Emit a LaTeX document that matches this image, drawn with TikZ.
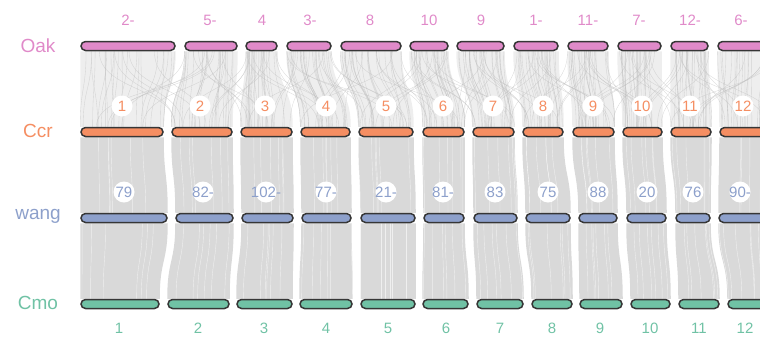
\documentclass[tikz,border=0pt]{standalone}
\usepackage{fontspec}
\setmainfont{Liberation Sans}
\usetikzlibrary{calc}
\definecolor{oakc}{HTML}{E08AC9}
\definecolor{ccrc}{HTML}{F58E62}
\definecolor{wangc}{HTML}{8DA0CB}
\definecolor{cmoc}{HTML}{70C2A5}
\definecolor{ribc}{HTML}{D9D9D9}
\definecolor{linec}{HTML}{BDBDBD}
\definecolor{edgec}{HTML}{363636}
\pgfdeclarelayer{bg}
\pgfsetlayers{bg,main}
\tikzset{
  bar/.style={draw=edgec, line width=1.5pt, rounded corners=4.5pt, minimum height=9pt, inner sep=0pt},
  rowlab/.style={font=\fontsize{19}{19}\selectfont, anchor=center},
  chrlab/.style={font=\fontsize{15}{15}\selectfont, anchor=center},
  circ/.style={circle, fill=white, minimum size=21pt, inner sep=0pt},
  ribbon/.style={fill=ribc},
  thinline/.style={draw=linec, line width=0.35pt, opacity=0.55},
}
\begin{document}
\begin{tikzpicture}[x=1pt,y=-1pt]
\useasboundingbox (0,0) rectangle (760,338);
\clip (0,0) rectangle (760,338);
% bars
\foreach \i/\a/\b in {1/81/175,2/185/237,3/246/277,4/287/331,5/341/401,6/410/448,7/457/504,8/514/558,9/568/608,10/618/661,11/671/708,12/718/775}
  \node[bar, fill=oakc, minimum width={\b-\a}] (o\i) at ({(\a+\b)/2},46) {};
\foreach \i/\a/\b in {1/81/163,2/172/232,3/241/292,4/301/350,5/359/413,6/423/464,7/473/514,8/523/563,9/573/614,10/623/662,11/671/711,12/720/775}
  \node[bar, fill=ccrc, minimum width={\b-\a}] (c\i) at ({(\a+\b)/2},132) {};
\foreach \i/\a/\b in {1/81/167,2/176/233,3/242/293,4/302/351,5/361/415,6/424/464,7/474/517,8/526/570,9/579/617,10/627/666,11/676/710,12/719/775}
  \node[bar, fill=wangc, minimum width={\b-\a}] (w\i) at ({(\a+\b)/2},218) {};
\foreach \i/\a/\b in {1/81/159,2/168/229,3/237/292,4/300/352,5/361/415,6/423/468,7/477/523,8/532/572,9/580/622,10/631/670,11/679/719,12/728/775}
  \node[bar, fill=cmoc, minimum width={\b-\a}] (m\i) at ({(\a+\b)/2},304) {};
% ribbons
\begin{pgfonlayer}{bg}
\foreach \i in {1,...,12} {
  \fill[ribbon] (c\i.south west) .. controls +(0,40) and +(0,-40) .. (w\i.north west)
     -- (w\i.north east) .. controls +(0,-40) and +(0,40) .. (c\i.south east) -- cycle;
  \fill[ribbon] (w\i.south west) .. controls +(0,40) and +(0,-40) .. (m\i.north west)
     -- (m\i.north east) .. controls +(0,-40) and +(0,40) .. (w\i.south east) -- cycle;
  \fill[ribc, opacity=0.45] (o\i.south west) .. controls +(0,40) and +(0,-40) .. (c\i.north west)
     -- (c\i.north east) .. controls +(0,-40) and +(0,40) .. (o\i.south east) -- cycle;
}
\pgfmathsetseed{7}
\foreach \i in {1,...,12} {
  \foreach \k in {1,...,22} {
    \pgfmathsetmacro\fa{rnd}
    \pgfmathsetmacro\fb{min(1,max(0,\fa+0.25*(rnd-0.5)))}
    \draw[thinline] ($(o\i.south west)!\fa!(o\i.south east)$) .. controls +(0,40) and +(0,-40) .. ($(c\i.north west)!\fb!(c\i.north east)$);
  }
}
\foreach \i/\j in {1/2,2/1,2/3,3/4,4/3,4/5,5/6,6/5,6/7,7/8,8/7,8/9,9/10,10/9,10/11,11/12,12/11,3/2,5/4,7/6,9/8,11/10} {
  \foreach \k in {1,...,5} {
    \pgfmathsetmacro\fa{rnd}
    \pgfmathsetmacro\fb{rnd}
    \draw[thinline] ($(o\i.south west)!\fa!(o\i.south east)$) .. controls +(0,40) and +(0,-40) .. ($(c\j.north west)!\fb!(c\j.north east)$);
  }
}
\foreach \i in {1,...,12} {
  \foreach \k in {1,...,6} {
    \pgfmathsetmacro\fa{rnd}
    \draw[white, line width=0.4pt, opacity=0.6] ($(c\i.south west)!\fa!(c\i.south east)$) .. controls +(0,40) and +(0,-40) .. ($(w\i.north west)!\fa!(w\i.north east)$);
    \pgfmathsetmacro\fb{rnd}
    \draw[white, line width=0.4pt, opacity=0.6] ($(w\i.south west)!\fb!(w\i.south east)$) .. controls +(0,40) and +(0,-40) .. ($(m\i.north west)!\fb!(m\i.north east)$);
  }
}
\end{pgfonlayer}
% row labels
\node[rowlab, text=oakc] (lo) at (38,46) {Oak};
\node[rowlab, text=ccrc] (lc) at (38,131) {Ccr};
\node[rowlab, text=wangc] (lw) at (38,216) {wang};
\node[rowlab, text=cmoc] (lm) at (38,303) {Cmo};
% oak labels
\foreach \x/\t [count=\n] in {128/2-,210/5-,262/4,310/3-,370/8,429/10,481/9,536/1-,588/11-,639/7-,690/12-,741/6-}
  \node[chrlab, text=oakc] (ot\n) at (\x,20) {\t};
% ccr labels
\foreach \x/\t [count=\n] in {122/1,200/2,265/3,326/4,386/5,443/6,493/7,543/8,593/9,642/10,690/11,743/12} {
  \node[circ] (cc\n) at (\x,106) {};
  \node[chrlab, text=ccrc] (ct\n) at (\x,106) {\t};
}
% wang labels
\foreach \x/\t [count=\n] in {124/79,203/82-,266/102-,326/77-,386/21-,443/81-,495/83,548/75,598/88,647/20,693/76,740/90-} {
  \node[circ] (wc\n) at (\x,192) {};
  \node[chrlab, text=wangc] (wt\n) at (\x,192) {\t};
}
% cmo labels
\foreach \x/\t [count=\n] in {119/1,198/2,264/3,326/4,388/5,446/6,500/7,552/8,600/9,650/10,699/11,745/12}
  \node[chrlab, text=cmoc] (mt\n) at (\x,328) {\t};
\end{tikzpicture}
\end{document}
